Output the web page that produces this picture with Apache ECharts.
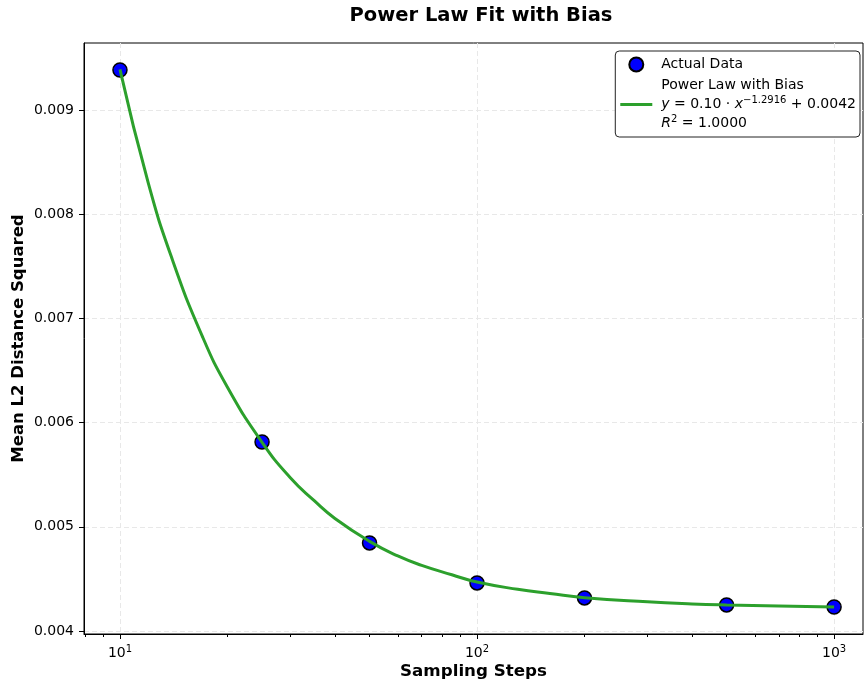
<!DOCTYPE html>
<html>
<head>
<meta charset="utf-8">
<script src="https://cdn.jsdelivr.net/npm/echarts@6/dist/echarts.min.js"></script>
<style>
  html, body { margin: 0; padding: 0; background: #fff; }
  #chart { width: 865px; height: 685px; }
</style>
</head>
<body>
<div id="chart"></div>
<script>
// measured points
const stepValues = [10, 25, 50, 100, 200, 500, 1000];
const distValues = [0.009384, 0.005814, 0.004845, 0.004461, 0.004317, 0.00425, 0.00423];

// fitted curve
const curveSteps = [10, 12, 14, 17, 20, 25, 30, 35, 40, 50, 60, 70, 85, 100, 130, 160, 200, 300, 400, 500, 700, 1000];
const curveDist = [0.00939, 0.00830, 0.00757, 0.00683, 0.00634, 0.00581, 0.00547, 0.00525, 0.00508, 0.00486,
                   0.00472, 0.00463, 0.00454, 0.00447, 0.00440, 0.00436, 0.00432, 0.00428, 0.00426, 0.00425,
                   0.00424, 0.00423];

// ticks
const xMajorTicks = [10, 100, 1000];
const xMinorTicks = [8, 9, 20, 30, 40, 50, 60, 70, 80, 90, 200, 300, 400, 500, 600, 700, 800, 900];
const yTicks = [0.004, 0.005, 0.006, 0.007, 0.008, 0.009];

const FONT = 'DejaVu Sans';
// plain line for the legend (tiny corner marks keep the box 32x14)
const LINE_ICON = 'path://M0,0L0.01,0M32,14L31.99,14M0,5.5L32,5.5L32,8.5L0,8.5Z';

let chart = echarts.init(document.getElementById('chart'));

function pairs(xs, ys) {
    return xs.map(function (x, i) { return [x, ys[i]]; });
}

chart.setOption({
    animation: false,
    title: {
        text: 'Power Law Fit with Bias',
        left: 476,
        textAlign: 'center',
        top: 1,
        textStyle: { fontFamily: FONT, fontSize: 19.5, fontWeight: 'bold', color: '#000' }
    },
    legend: {
        orient: 'vertical',
        right: 5,
        top: 51,
        padding: [4, 4, 4, 5],
        itemGap: 2,
        itemWidth: 32,
        itemHeight: 14,
        backgroundColor: '#fff',
        borderColor: '#222',
        borderWidth: 1,
        borderRadius: 4,
        data: [
            { name: 'Actual Data', icon: 'circle', itemStyle: { opacity: 1 } },
            { name: 'Power Law with Bias', icon: LINE_ICON }
        ],
        formatter: function (name) {
            if (name === 'Power Law with Bias') {
                return 'Power Law with Bias\n{i|y} = 0.10 · {i|x}{sup|−1.2916} + 0.0042\n{i|R}{sup|2} = 1.0000';
            }
            return name;
        },
        textStyle: {
            fontFamily: FONT,
            fontSize: 14,
            color: '#000',
            lineHeight: 19,
            padding: [0, 0, 0, 4],
            rich: {
                i: { fontFamily: FONT, fontSize: 14, fontStyle: 'italic', color: '#000' },
                sup: { fontFamily: FONT, fontSize: 10, color: '#000', padding: [0, 0, 8, 0] }
            }
        }
    },
    grid: {
        left: 84,
        right: 2,
        top: 43,
        bottom: 51,
        show: true,
        borderColor: '#000',
        borderWidth: 1,
        containLabel: false,
        outerBoundsMode: 'none'
    },
    xAxis: [{
        type: 'log',
        logBase: 10,
        min: 7.93,
        max: 1205,
        name: 'Sampling Steps',
        nameLocation: 'middle',
        nameGap: 29,
        nameMoveOverlap: false,
        nameTextStyle: { fontFamily: FONT, fontSize: 16.7, fontWeight: 'bold', color: '#000' },
        axisLine: { lineStyle: { color: '#000', width: 1 } },
        axisTick: { customValues: xMajorTicks, length: 5, lineStyle: { color: '#000' } },
        axisLabel: {
            customValues: xMajorTicks,
            fontFamily: FONT,
            fontSize: 14,
            color: '#000',
            margin: 10,
            formatter: function (v) {
                let e = Math.round(Math.log10(v));
                return '10{s|' + e + '}';
            },
            rich: {
                s: { fontFamily: FONT, fontSize: 10, color: '#000', padding: [0, 0, 8, 0] }
            }
        },
        splitLine: { show: true, lineStyle: { color: '#e8e8e8', type: [5, 3], width: 1 } }
    }, {
        type: 'log',
        logBase: 10,
        min: 7.93,
        max: 1205,
        position: 'bottom',
        axisLine: { show: false },
        axisTick: { customValues: xMinorTicks, length: 3, lineStyle: { color: '#000' } },
        axisLabel: { show: false },
        splitLine: { show: false }
    }],
    yAxis: {
        type: 'value',
        min: 0.003971,
        max: 0.009643,
        name: 'Mean L2 Distance Squared',
        nameLocation: 'middle',
        nameGap: 57,
        nameMoveOverlap: false,
        nameTextStyle: { fontFamily: FONT, fontSize: 16.5, fontWeight: 'bold', color: '#000' },
        axisLine: { show: true, lineStyle: { color: '#000', width: 1 } },
        axisTick: { show: true, customValues: yTicks, length: 5, lineStyle: { color: '#000' } },
        axisLabel: {
            customValues: yTicks,
            fontFamily: FONT,
            fontSize: 14,
            color: '#000',
            margin: 10,
            formatter: function (v) { return v.toFixed(3); }
        },
        splitLine: { show: true, lineStyle: { color: '#e8e8e8', type: [5, 3], width: 1 } }
    },
    series: [{
        name: 'Actual Data',
        type: 'scatter',
        data: pairs(stepValues, distValues),
        symbol: 'circle',
        symbolSize: 14,
        itemStyle: { color: '#0000ff', opacity: 1, borderColor: '#000', borderWidth: 1.5 },
        z: 2
    }, {
        name: 'Power Law with Bias',
        type: 'line',
        data: pairs(curveSteps, curveDist),
        smooth: true,
        symbol: 'none',
        lineStyle: { color: '#2ca02c', width: 3 },
        itemStyle: { color: '#2ca02c' },
        z: 3
    }]
});
</script>
</body>
</html>
